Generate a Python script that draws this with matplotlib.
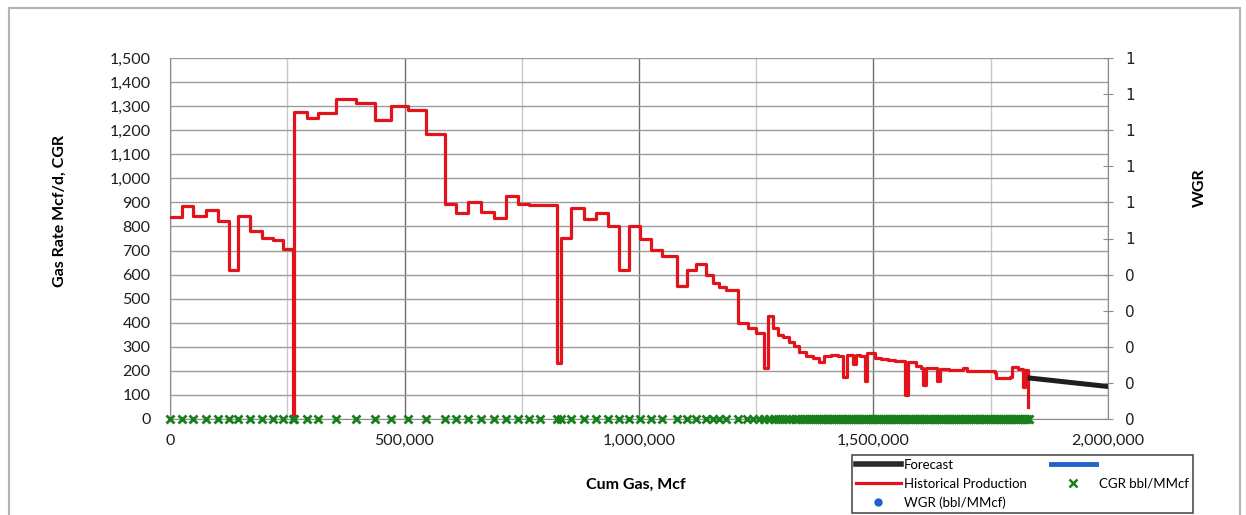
import numpy as np
import matplotlib
matplotlib.use('Agg')
import matplotlib.pyplot as plt
from matplotlib.lines import Line2D
from matplotlib.patches import Rectangle
from matplotlib.ticker import FuncFormatter, MultipleLocator

# historical production, cum gas in thousand Mcf vs gas rate Mcf/d (stepped monthly)
hist_cum_k = [0, 25, 50, 76, 102, 126, 146, 171, 196, 220, 241, 262, 264, 292, 315, 355, 396,
              438, 471, 508, 545, 587, 610, 636, 664, 690, 717, 742, 765, 789, 826, 833, 856,
              882, 908, 934, 958, 979, 1002, 1025, 1049, 1082, 1102, 1122, 1143, 1157, 1170,
              1186, 1212, 1233, 1250, 1267, 1274, 1286, 1296, 1308, 1319, 1330, 1342, 1356,
              1370, 1383, 1395, 1410, 1425, 1436, 1443, 1457, 1462, 1472, 1481, 1487, 1503,
              1515, 1530, 1545, 1568, 1573, 1590, 1601, 1606, 1611, 1636, 1641, 1660, 1678,
              1690, 1700, 1760, 1761, 1790, 1795, 1808, 1819, 1823, 1829]
hist_rate = [840, 885, 843, 867, 822, 621, 843, 780, 753, 742, 707, 0, 1276, 1250, 1271, 1329, 1312,
             1243, 1301, 1283, 1183, 892, 857, 901, 860, 836, 926, 892, 890, 888, 232, 753, 878,
             832, 857, 801, 621, 801, 750, 701, 676, 551, 621, 642, 600, 565, 549,
             537, 400, 378, 357, 211, 426, 378, 350, 340, 320, 303, 280, 262,
             255, 235, 262, 265, 262, 176, 265, 230, 265, 262, 158, 274, 253,
             250, 245, 241, 100, 236, 222, 212, 142, 210, 156, 207, 205, 203,
             212, 200, 192, 172, 175, 218, 208, 135, 202, 51]

# forecast
fc_cum_k = [1834, 2000]
fc_rate = [170, 135]

# CGR readings (all zero), daily from about 1.23 MMMcf onwards
cgr_dense_k = [1230, 1244, 1256, 1267, 1278, 1288, 1297, 1305, 1313, 1320, 1327, 1334, 1340,
               1346, 1352, 1357, 1362, 1367, 1372, 1376, 1380, 1384, 1388, 1392, 1396, 1400,
               1404, 1408, 1412, 1416, 1420, 1424, 1428, 1432, 1436, 1440, 1444, 1448, 1452,
               1456, 1460, 1464, 1468, 1472, 1476, 1480, 1484, 1488, 1492, 1496, 1500, 1504,
               1508, 1512, 1516, 1520, 1524, 1528, 1532, 1536, 1540, 1544, 1548, 1552, 1556,
               1560, 1564, 1568, 1572, 1576, 1580, 1584, 1588, 1592, 1596, 1600, 1604, 1608,
               1612, 1616, 1620, 1624, 1628, 1632, 1636, 1640, 1644, 1648, 1652, 1656, 1660,
               1664, 1668, 1672, 1676, 1680, 1684, 1688, 1692, 1696, 1700, 1704, 1708, 1712,
               1716, 1720, 1724, 1728, 1732, 1736, 1740, 1744, 1748, 1752, 1756, 1760, 1764,
               1768, 1772, 1776, 1780, 1784, 1788, 1792, 1796, 1800, 1804, 1808, 1812, 1816,
               1820, 1824, 1828, 1832]

wgr_ticks = [0, 0.1, 0.2, 0.3, 0.4, 0.5, 0.6, 0.7, 0.8, 0.9, 1.0]
wgr_tick_labels = ['0', '0', '0', '0', '0', '1', '1', '1', '1', '1', '1']

plt.rcParams['font.family'] = ['Lato', 'DejaVu Sans']

W, H = 1246, 515
fig = plt.figure(figsize=(W / 100, H / 100), dpi=100)
ax = fig.add_axes([170 / W, 1 - 419 / H, (1108 - 170) / W, (419 - 58) / H])

hist_cum = np.array(hist_cum_k) * 1000
fc_cum = np.array(fc_cum_k) * 1000
cgr_cum = np.array([c for c in hist_cum_k if c < 1230] + cgr_dense_k) * 1000
cgr = np.zeros(len(cgr_cum))

ax.plot(hist_cum, hist_rate, drawstyle='steps-post', color='#e3131b', lw=2.3, zorder=3)
ax.plot(fc_cum, fc_rate, color='#1e1e1e', lw=3.6, zorder=3)
ax.plot(cgr_cum, cgr, ls='none', marker='x', ms=6, mew=2, color='#17801c', zorder=4, clip_on=False)

ax.set_xlim(0, 2000000)
ax.set_ylim(0, 1500)
ax.xaxis.set_major_locator(MultipleLocator(500000))
ax.xaxis.set_minor_locator(MultipleLocator(250000))
ax.yaxis.set_major_locator(MultipleLocator(100))
ax.xaxis.set_major_formatter(FuncFormatter(lambda v, p: f'{v:,.0f}'))
ax.yaxis.set_major_formatter(FuncFormatter(lambda v, p: f'{v:,.0f}'))
ax.grid(which='major', axis='y', color='#9c9c9c', lw=1)
ax.grid(which='major', axis='x', color='#6e6e6e', lw=1)
ax.grid(which='minor', axis='x', color='#c8c8c8', lw=1)
ax.set_axisbelow(True)
ax.tick_params(which='both', length=0)
ax.tick_params(axis='x', pad=11, labelsize=11.5, labelcolor='#1e1e1e')
ax.tick_params(axis='y', pad=14, labelsize=11.5, labelcolor='#1e1e1e')
for s in ['top', 'right']:
    ax.spines[s].set_visible(False)
ax.spines['left'].set_color('#8c8c8c')
ax.spines['bottom'].set_color('#8c8c8c')

ax2 = ax.twinx()
ax2.set_ylim(0, 1)
ax2.set_yticks(wgr_ticks)
ax2.set_yticklabels(wgr_tick_labels, family='DejaVu Sans', fontsize=11, color='#1e1e1e')
ax2.tick_params(axis='y', direction='inout', length=7, color='#8c8c8c', pad=9)
for s in ['top', 'left', 'bottom']:
    ax2.spines[s].set_visible(False)
ax2.spines['right'].set_color('#8c8c8c')

fig.text(60 / W, 1 - 211 / H, 'Gas Rate Mcf/d, CGR', rotation=90, ha='center', va='center',
         fontsize=11.5, fontweight='bold')
fig.text(1200 / W, 1 - 188 / H, 'WGR', rotation=90, ha='center', va='center',
         fontsize=11.5, fontweight='bold')
fig.text(636 / W, 1 - 485 / H, 'Cum Gas, Mcf', ha='center', va='center',
         fontsize=11.5, fontweight='bold')

# legend, two columns, hanging off the bottom right corner
handles = [Line2D([], [], color='#2a2a2a', lw=4),
           Line2D([], [], color='#e3131b', lw=2.3),
           Line2D([], [], ls='none', marker='o', ms=5, color='#1f5fc8'),
           Line2D([], [], color='#1f64c8', lw=3.5),
           Line2D([], [], ls='none', marker='x', ms=6, mew=1.8, color='#17801c')]
labels = ['Forecast', 'Historical Production', 'WGR (bbl/MMcf)', '', 'CGR bbl/MMcf']
leg = fig.legend(handles, labels, ncol=2, loc='upper left', bbox_to_anchor=(852 / W, 1 - 455 / H),
                 fontsize=9.5, handlelength=3.4, handletextpad=0.25, columnspacing=1.8,
                 labelspacing=0.5, borderpad=0.3, borderaxespad=0, fancybox=False)
leg.get_frame().set_edgecolor('#222222')
leg.get_frame().set_linewidth(1.2)

fig.patches.append(Rectangle((9 / W, -0.02), (1240 - 9) / W, 1.02 - 8 / H, transform=fig.transFigure,
                             fill=False, edgecolor='#b4b4b4', lw=1.5))

fig.savefig('out.png', dpi=100)
